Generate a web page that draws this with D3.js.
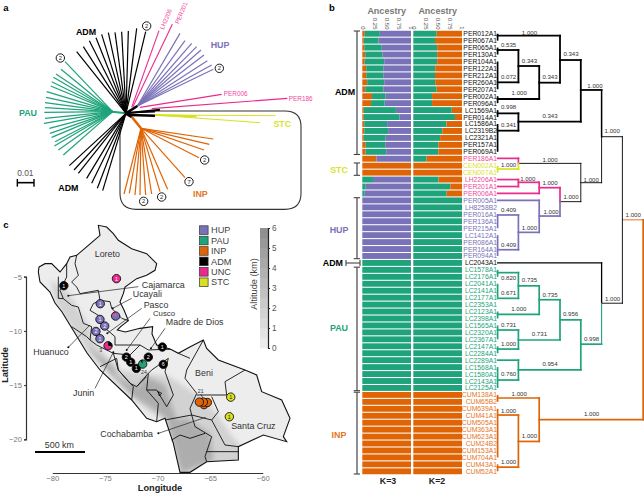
<!DOCTYPE html>
<html><head><meta charset="utf-8">
<script src="https://cdn.jsdelivr.net/npm/d3@7"></script>
<style>
html,body{margin:0;padding:0;background:#fff}
svg{display:block;font-family:"Liberation Sans",Arial,sans-serif}
</style></head><body><svg id="c" width="644" height="495"></svg>
<script>
// ---------- colours ----------
const COL={HUP:"#7a72b8",PAU:"#1ea37a",INP:"#df6405",ADM:"#000",UNC:"#ea2a8d",STC:"#d9e021"};
const TXT={HUP:"#7a72b8",PAU:"#1ea37a",INP:"#e5761f",ADM:"#000",UNC:"#f0489c",STC:"#dbe22a"};

// ---------- panel b: samples ----------
const names=["PER012A1","PER067A1","PER065A1","PER130A1","PER104A1","PER122A1","PER212A1","PER260A1","PER207A1","PER002A1","PER096A1","LC1569A1","PER014A1","LC1586A1","LC2319B2","LC2321A1","PER157A1","PER069A1","PER186A1","CEN002A1","CEN007A1","LH2206A1","PER201A1","PER006A1","PER005A1","LH8258B2","PER016A1","PER136A1","PER215A1","LC1412A1","PER086A1","PER164A1","PER094A1","LC2043A1","LC1578A1","LC2176A1","LC2041A1","LC2141A1","LC2177A1","LC2353A1","LC2123A1","LC2398A1","LC1565A1","LC2320A1","LC2367A1","LC2147A1","LC2284A1","LC2289A1","LC1568A1","LC1580A1","LC2143A1","LC2125A1","CUM138A1","CUM65B2","CUM639A1","CUM41A1","CUM505A1","CUM363A1","CUM623A1","CUM24B2","CUM153A1","CUM704A1","CUM43A1","CUM52A1"];
const nameGroups=[["ADM",18],["UNC",1],["STC",2],["UNC",3],["HUP",9],["ADM",1],["PAU",18],["INP",12]];
const k3Orange=[.05,.03,.04,.06,.05,.08,.08,.10,.06,.20,.18,.03,.03,.04,.04,.03,.07,.07,.29,1,1,0,0,0,0,0,0,0,0,0,0,0,0,0,0,0,0,0,0,0,0,0,0,0,0,0,0,0,0,0,0,0,1,1,1,1,1,1,1,1,1,1,1,1];
const k3Green=[.31,.30,.36,.35,.40,.35,.35,.35,.37,.28,.28,.66,.73,.47,.49,.45,.40,.42,0,0,0,.22,.07,.05,0,0,0,0,0,0,0,0,0,.98,1,1,1,1,1,1,1,1,1,1,1,1,1,1,1,1,1,1,0,0,0,0,0,0,0,0,0,0,0,0];
const k2Green=[.48,.445,.49,.49,.49,.45,.445,.45,.48,.385,.385,.79,.855,.68,.595,.55,.515,.515,.27,0,0,.52,.76,.685,1,1,1,1,1,1,1,1,1,1,1,1,1,1,1,1,1,1,1,1,1,1,1,1,1,1,1,1,0,0,0,0,0,0,0,0,0,0,0,0];
const ancestryTicks=[0,.25,.5,.75,1];
const ancestryLabels=["0","0.25","0.50","0.75","1"];
const brackets=[["ADM",0,17],["STC",19,20],["HUP",24,32],["PAU",34,51],["INP",52,63]];

// dendrogram: level = depth column, row = sample row
const dendroH=[ // from level, to level, row, colour, weight
[0,3,.29,"ADM",1.8],[3,4,3.79,"ADM",1.8],[2,3,7.05,"ADM",1.8],[1,2,4.65,"ADM",1.8],[0,2,9.4,"ADM",1.8],[0,1,2.35,"ADM",1.8],[0,1,7,"ADM",1.8],
[1,4,12.67,"ADM",1.8],[4,5,8.1,"ADM",1.8],[0,1,11.47,"ADM",1.8],[0,1,13.96,"ADM",1.8],[5,6,14.83,"ADM",.9],[4,5,21.45,"ADM",.9],[1,4,18.67,"ADM",.9],
[0,1,17.95,"UNC",1.7],[0,1,19.48,"STC",1.7],[3,4,24.18,"ADM",.9],[2,3,22.17,"UNC",1.7],[2,3,26.25,"HUP",1.7],[1,2,21.4,"UNC",1.7],[0,2,23,"UNC",1.7],[0,1,21,"UNC",1.7],[0,1,22,"UNC",1.7],
[0,2,24,"HUP",1.7],[1,2,28.6,"HUP",1.7],[0,1,26.1,"HUP",1.7],[0,1,31.1,"HUP",1.7],
[0,5,33,"ADM",1.3],[5,6,38.8,"ADM",.9],[6,7,26.8,"INP",.9],
[4,5,44.7,"PAU",1.7],[1,4,48.4,"PAU",1.7],[3,4,41.2,"PAU",1.7],[2,3,38.3,"PAU",1.7],[1,3,44.1,"PAU",1.7],[1,2,36.3,"PAU",1.7],[0,2,40.4,"PAU",1.7],
[0,1,34.4,"PAU",1.7],[0,1,38.1,"PAU",1.7],[0,1,42.66,"PAU",1.7],[0,1,45.4,"PAU",1.7],[0,1,47,"PAU",1.7],[0,1,49.86,"PAU",1.7],
[2,7,55.56,"INP",1.8],[0,2,52.45,"INP",1.7],[1,2,58.7,"INP",1.7],[0,1,54.9,"INP",1.7],[0,1,62.4,"INP",1.7]];
const dendroV=[ // level, row a, row b, colour, weight
[3,.29,7.05,"ADM",1.8],[2,4.65,9.4,"ADM",1.8],[1,2.35,7,"ADM",1.8],[4,3.79,12.67,"ADM",1.8],[1,11.47,13.96,"ADM",1.8],[5,8.1,14.83,"ADM",1.5],[5,14.83,21.45,"ADM",.9],
[4,18.67,24.18,"ADM",.9],[1,17.95,18.67,"UNC",1.7],[1,18.67,19.48,"STC",1.7],[3,22.17,24.18,"UNC",1.7],[3,24.18,26.25,"HUP",1.7],[2,21.4,23,"UNC",1.7],[1,21,22,"UNC",1.7],
[2,24,28.6,"HUP",1.7],[1,26.1,31.1,"HUP",1.7],[5,33,38.8,"ADM",1.3],[5,38.8,44.7,"PAU",1.1],[6,14.83,38.8,"ADM",.9],[7,26.8,55.56,"INP",1.8],
[4,41.2,48.4,"PAU",1.7],[3,38.3,44.1,"PAU",1.7],[2,36.3,40.4,"PAU",1.7],[1,34.4,38.1,"PAU",1.7],[1,42.66,45.4,"PAU",1.7],[1,47,49.86,"PAU",1.7],
[2,52.45,58.7,"INP",1.7],[1,54.9,62.4,"INP",1.7]];
const tipBars=[[0,1,"ADM"],[2,3,"ADM"],[4,8,"ADM"],[9,10,"ADM"],[11,12,"ADM"],[13,17,"ADM"],[19,20,"STC"],[26,28,"HUP"],[29,32,"HUP"],[34,35,"PAU"],[36,38,"PAU"],[40,41,"PAU"],[42,44,"PAU"],[45,46,"PAU"],[48,51,"PAU"],[52,53,"INP"],[54,61,"INP"],[62,63,"INP"]];
const supportLabels=[[1.53,-.19,"1.000"],[.53,1.54,"0.535"],[1.53,3.79,"0.343"],[2.52,6.14,"0.343"],[.53,6.09,"0.072"],[1.04,8.49,"1.000"],[3.53,2.78,"0.343"],[4.68,7.39,"1.000"],[2.52,11.76,"0.343"],[.53,10.5,"0.998"],[.53,13.05,"0.341"],[5.51,13.96,"1.000"],[2.52,18.04,"1.000"],[.53,18.8,"1.000"],[1.45,20.83,"1.000"],[2.52,21.45,"1.000"],[4.5,20.92,"1.000"],[3.53,23.5,"1.000"],[2.57,25.6,"1.000"],[1.53,27.9,"1.000"],[.53,25.3,"0.409"],[.53,30.3,"0.409"],[6.52,26,"1.000"],[1.53,35.36,"0.735"],[2.52,37.5,"0.735"],[.53,35.1,"0.820"],[.53,37.2,"0.671"],[1.02,39.5,"1.000"],[3.51,40.3,"0.956"],[.53,41.85,"0.731"],[2.01,43.2,"0.731"],[.53,44.6,"1.000"],[5.53,38.1,"1.000"],[4.52,43.95,"0.998"],[2.52,47.45,"0.954"],[.53,48.9,"0.760"],[1.04,51.8,"1.000"],[.53,54.2,"1.000"],[1.53,57.8,"1.000"],[.53,61.6,"1.000"],[4.52,54.65,"1.000"]];

// ---------- panel a: unrooted tree tips ----------
const treeCentre=[378,340];
const pauHub=[338,335];
const pauTips=[[195,185],[183,208],[168,222],[160,232],[155,245],[152,258],[140,275],[138,292],[135,308],[135,323],[133,337],[135,355],[132,370],[148,385],[150,400],[155,412],[165,425],[163,438],[175,450],[190,465]];
const admTopTips=[[230,155],[250,140],[268,122],[288,113],[305,103],[325,98],[345,97],[365,95],[385,93],[410,85],[437,95]];
const admBotTips=[[208,497],[222,510],[235,520],[260,535],[275,550],[292,565],[308,572]];
const hupHub=[412,318];
const hupTips=[[540,100],[555,122],[575,130],[590,140],[603,150],[612,165],[622,182],[635,195],[640,208]];
const uncLong=[[[395,322],[477,92]],[[398,322],[517,73]],[[420,322],[665,283]],[[455,326],[862,295]]];
const stcTips=[[827,347],[780,368]];
const inpHub=[423,385];
const inpTips=[[640,417],[628,433],[612,450],[597,473],[555,533],[372,582],[388,580],[405,585],[420,585],[437,585],[455,582],[480,575],[503,568]];
const circled=[[440,78,2],[181,174,2],[658,205,2],[614,480,2],[567,545,7],[431,604,2],[485,591,2]];
const treeLabels=[[258,96,"ADM","ADM"],[205,564,"ADM","ADM"],[84,339,"PAU","PAU"],[660,135,"HUP","HUP"],[847,371,"STC","STC"],[601,581,"INP","INP"]];

// ---------- panel c ----------
const lonTicks=[-80,-75,-70,-65,-60];
const latTicks=[-5,-10,-15,-20];
const altTicks=[0,1,2,3,4,5,6];
const altBands=d3.range(0,6,.5);
const outline=[[117,111],[135,101],[155,101],[180,126],[200,101],[210,81],[230,76],[265,46],[300,16],[295,-14],[320,-9],[340,11],[355,31],[395,56],[440,71],[470,101],[465,121],[440,136],[410,146],[375,171],[370,191],[360,216],[372,240],[385,272],[362,290],[352,300],[376,306],[420,295],[458,290],[456,312],[470,345],[512,358],[535,370],[568,352],[610,330],[620,355],[655,390],[735,420],[770,435],[785,485],[845,510],[870,565],[850,620],[860,635],[790,615],[715,650],[715,690],[620,695],[570,727],[540,727],[520,640],[495,565],[470,575],[440,565],[395,510],[300,420],[261,369],[219,300],[186,246],[165,219],[150,186],[120,156],[115,126]];
const altMid=[[150,150],[200,180],[262,280],[292,350],[360,420],[440,430],[510,440],[600,500],[650,550],[690,610],[724,650],[724,730],[540,740],[510,650],[500,570],[440,540],[350,450],[270,370],[220,300],[170,225]];
const altHigh=[[255,345],[290,370],[340,410],[352,440],[410,470],[440,440],[495,465],[530,570],[560,565],[630,610],[640,690],[545,728],[520,640],[500,565],[450,530],[400,500],[340,440]];
const borders=[
[[230,76],[225,101],[235,136],[215,156],[230,171],[240,191],[295,181],[300,211],[280,221],[270,241],[295,256],[310,290],[345,320],[345,345],[385,345],[420,345],[445,360],[490,358],[512,358]],
[[200,101],[200,141],[180,181],[190,206],[215,226],[235,231],[250,280],[275,290],[270,330],[290,345],[340,370],[355,420],[390,460],[410,470],[440,440]],
[[175,140],[175,205],[190,206]],[[215,290],[260,320],[270,330]],[[300,410],[350,385],[355,420]],[[355,420],[400,470],[395,510]],[[340,370],[390,375],[420,345]],[[300,211],[330,215],[335,235],[365,265],[385,272]],
[[505,385],[495,425],[520,495],[500,530],[470,480],[440,480],[445,430],[410,470]],
[[440,480],[475,520],[470,575]],[[445,430],[455,420],[505,385]],[[475,485],[485,490],[478,498],[475,485]],
[[610,330],[560,420],[555,445],[590,490],[570,535],[575,555],[495,570]],[[535,370],[570,385]],
[[590,495],[680,495],[675,455],[735,420]],[[635,500],[655,545],[635,570],[675,645],[715,650]],[[575,555],[635,570]],
[[575,555],[585,590],[635,620],[615,680],[620,695]],[[620,665],[715,665]],[[515,630],[540,615],[570,625],[615,610]]
];
const leaders=[[[205,197],[415,170]],[[338,235],[395,205]],[[322,310],[425,235]],[[380,360],[450,265]],[[453,355],[495,295]],[[205,352],[270,285]],[[340,367],[285,475]],[[475,610],[617,562]],[[602,492],[610,506]]];
const mapTexts=[[322,72,"Loreto",8.9],[490,165,"Cajamarca",8.9],[442,193,"Ucayali",8.9],[468,225,"Pasco",8.9],[492,250,"Cusco",7.8],[584,275,"Madre de Dios",8.9],[153,365,"Huanuco",8.9],[251,488,"Junin",8.9],[612,428,"Beni",8.9],[760,587,"Santa Cruz",8.9],[380,612,"Cochabamba",8.9],[178,645,"500 km",8.9],[302,360,"3",5.2],[432,427,"24",5.2],[602,483,"21",5.2]];
// markers: lon, lat, count text, shares
const markers=[
[-78.9,-5.83,"1",[["ADM",1]]],[-73.9,-5.18,"1",[["UNC",1]]],[-75.44,-7.49,"1",[["HUP",1]]],[-73.98,-8.63,"",[["HUP",.85],["UNC",.15]]],[-75.47,-8.94,"1",[["HUP",1]]],[-75.02,-9.55,"2",[["HUP",1]]],[-75.85,-10.05,"2",[["HUP",1]]],[-75.47,-10.72,"1",[["HUP",1]]],[-74.7,-11.37,"",[["ADM",.3],["UNC",.7]]],
[-69.54,-11.49,"1",[["ADM",1]]],[-72.96,-12.42,"2",[["ADM",1]]],[-72.55,-12.88,"1",[["ADM",1]]],[-72.01,-13.46,"1",[["ADM",1]]],[-70.87,-12.42,"2",[["ADM",1]]],[-69.45,-13.09,"6",[["ADM",1]]],[-71.41,-13.06,"",[["PAU",.9],["ADM",.1]]],
[-65.58,-16.8,"",[["INP",1]]],[-65.26,-16.6,"",[["INP",1]]],[-65.64,-16.57,"",[["INP",1]]],[-66.02,-16.57,"",[["INP",1]]],
[-63.04,-16.11,"1",[["STC",1]]],[-63.17,-17.92,"1",[["STC",1]]]];
const legendItems=["HUP","PAU","INP","ADM","UNC","STC"];

// ---------- draw ----------
const svg=d3.select("#c");
const txt=(g,x,y,s,o={})=>g.append("text").attr("x",x).attr("y",y).attr("text-anchor",o.a||"middle").attr("dominant-baseline","central").attr("font-size",o.s||8).attr("font-weight",o.w||"normal").attr("fill",o.f||"#333").text(s);
[[6,7,"a"],[332,7,"b"],[6,224,"c"]].forEach(d=>txt(svg,d[0],d[1],d[2],{s:9.5,w:"bold",f:"#000"}));

// panel a
const tx=d3.scaleLinear().domain([0,990]).range([0,330]);
const ty=d3.scaleLinear().domain([0,720]).range([0,240]);
const pa=svg.append("g");
const tline=d3.line().x(d=>tx(d[0])).y(d=>ty(d[1]));
const seg=(pts,col,w)=>pa.append("path").attr("d",tline(pts)).attr("fill","none").attr("stroke",col).attr("stroke-width",w);
const boxPath=d3.path();
const bx=tx, by=ty;
boxPath.moveTo(bx(465),by(333));boxPath.lineTo(bx(855),by(333));boxPath.quadraticCurveTo(bx(903),by(333),bx(903),by(380));
boxPath.lineTo(bx(903),by(580));boxPath.quadraticCurveTo(bx(903),by(628),bx(855),by(628));boxPath.lineTo(bx(408),by(628));
boxPath.quadraticCurveTo(bx(360),by(628),bx(360),by(580));boxPath.lineTo(bx(360),by(385));
pa.append("path").attr("d",boxPath.toString()).attr("fill","none").attr("stroke","#333").attr("stroke-width",1.1);
pauTips.forEach(t=>seg([pauHub,t],COL.PAU,1.2));
seg([treeCentre,pauHub],COL.PAU,2);
admTopTips.forEach(t=>seg([treeCentre,t],"#000",1.2));
admBotTips.forEach(t=>seg([treeCentre,t],"#000",1.2));
hupTips.forEach(t=>seg([hupHub,t],COL.HUP,1.2));
uncLong.forEach(t=>seg(t,COL.UNC,1.1));
seg([[465,345],[590,349]],COL.STC,2.2);
stcTips.forEach(t=>seg([[465,345],t],COL.STC,1));
inpTips.forEach(t=>seg([inpHub,t],COL.INP,1.2));
seg([[395,350],inpHub],COL.INP,2.5);
seg([[378,340],[412,318]],"#000",2.5);
seg([[378,340],[480,329]],"#000",2);
seg([[378,338],[465,335]],"#000",1.5);
seg([[390,345],[465,347]],"#000",2.5);
seg([[378,340],[395,350]],"#000",3);
seg([[52,548],[102,548]],"#000",1.6);seg([[52,537],[52,560]],"#000",1.4);seg([[102,537],[102,560]],"#000",1.4);
txt(pa,tx(76),ty(520),"0.01",{s:8.4,f:"#555"});
txt(pa,tx(707),ty(281),"PER006",{s:6.4,f:TXT.UNC});
txt(pa,tx(902),ty(295),"PER186",{s:6.4,f:TXT.UNC});
[[497,57,"LH2206"],[543,38,"PER201"]].forEach(d=>txt(pa,tx(d[0]),ty(d[1]),d[2],{s:6.2,f:TXT.UNC}).attr("transform",`rotate(-67 ${tx(d[0])} ${ty(d[1])})`));
treeLabels.forEach(d=>txt(pa,tx(d[0]),ty(d[1]),d[2],{s:8.9,w:"bold",f:TXT[d[3]]}));
circled.forEach(d=>{pa.append("circle").attr("cx",tx(d[0])).attr("cy",ty(d[1])).attr("r",4.2).attr("fill","#fff").attr("stroke","#000").attr("stroke-width",.9);
 txt(pa,tx(d[0]),ty(d[1]),d[2],{s:5.8,f:"#222"});});

// panel b
const rowY=d3.scaleLinear().domain([0,63]).range([33.7,471.3]);
const k3x=d3.scaleLinear().domain([0,1]).range([362.3,411]);
const k2x=d3.scaleLinear().domain([0,1]).range([413.3,462]);
const pb=svg.append("g");
const barH=5.9;
names.forEach((n,i)=>{
 const o=k3Orange[i],g=k3Green[i];
 [[0,o,"INP"],[o,o+g,"PAU"],[o+g,1,"HUP"]].forEach(s=>{ if(s[1]>s[0]) pb.append("rect").attr("x",k3x(s[0])).attr("width",k3x(s[1])-k3x(s[0])).attr("y",rowY(i)-barH/2).attr("height",barH).attr("fill",COL[s[2]]);});
 const h=k2Green[i];
 [[0,h,"PAU"],[h,1,"INP"]].forEach(s=>{ if(s[1]>s[0]) pb.append("rect").attr("x",k2x(s[0])).attr("width",k2x(s[1])-k2x(s[0])).attr("y",rowY(i)-barH/2).attr("height",barH).attr("fill",COL[s[2]]);});
});
[k3x,k2x].forEach(sc=>{
 const g=pb.append("g").attr("transform","translate(0,29.5)").call(d3.axisTop(sc).tickValues(ancestryTicks).tickSize(0).tickPadding(0).tickFormat((d,i)=>ancestryLabels[i]));
 g.select(".domain").remove();
 g.selectAll("text").attr("font-size",6).attr("font-family","inherit").attr("fill","#555").attr("transform","rotate(90)").attr("x",0).attr("y",0).attr("dy",".35em").attr("text-anchor","end");
 txt(pb,(sc.range()[0]+sc.range()[1])/2,11,"Ancestry",{s:9,w:"bold",f:"#777"});
});
txt(pb,388,481,"K=3",{s:8.8,w:"bold",f:"#222"});
txt(pb,437,481,"K=2",{s:8.8,w:"bold",f:"#222"});
// names
let gi=0,left=nameGroups[0][1];
names.forEach((n,i)=>{ if(left===0){gi++;left=nameGroups[gi][1];} left--;
 const g=nameGroups[gi][0];
 txt(pb,497,rowY(i),n,{s:6.8,a:"end",f:g==="ADM"?"#111":TXT[g]}); });
// brackets
const bl=d3.line();
const br=(pts,w,c)=>pb.append("path").attr("d",bl(pts)).attr("fill","none").attr("stroke",c||"#444").attr("stroke-width",w);
brackets.forEach(b=>{const y0=rowY(b[1])-2.7,y1=rowY(b[2])+2.7;
 br([[357,y0],[357,y1]],1.2);br([[353.7,y0],[360,y0]],1.1);br([[353.7,y1],[360,y1]],1.1);
});
br([[346,263],[360,263]],1.1);br([[346,260],[346,266]],1.1);br([[360,260],[360,266]],1.1);
[["ADM",92,345],["STC",170,339],["HUP",230,339],["PAU",328,339],["INP",435,339]].forEach(d=>txt(pb,d[2],d[1],d[0],{s:8.9,w:"bold",f:TXT[d[0]]}));
txt(pb,343,263,"ADM",{s:8.9,w:"bold",f:"#000",a:"end"});
// dendrogram
const lev=d3.scaleLinear().domain([0,7]).range([497.6,643.2]);
const pd=svg.append("g");
const dl=d3.line().x(d=>lev(d[0])).y(d=>rowY(d[1]));
dendroH.forEach(d=>pd.append("path").attr("d",dl([[d[0],d[2]],[d[1],d[2]]])).attr("fill","none").attr("stroke",COL[d[3]]).attr("stroke-width",d[4]).attr("stroke-linecap","square"));
dendroV.forEach(d=>pd.append("path").attr("d",dl([[d[0],d[1]],[d[0],d[2]]])).attr("fill","none").attr("stroke",COL[d[3]]).attr("stroke-width",d[4]).attr("stroke-linecap","square"));
tipBars.forEach(d=>pd.append("path").attr("d",dl([[0,d[0]],[0,d[1]]])).attr("stroke",COL[d[2]]).attr("stroke-width",1.7));
supportLabels.forEach(d=>txt(pd,lev(d[0]),rowY(d[1]),d[2],{s:6.1,f:"#333"}));

// panel c
const lonX=d3.scaleLinear().domain([-80,-60]).range([52.3,262.7]);
const latY=d3.scaleLinear().domain([-5,-20]).range([276.7,439.3]);
const sx=d3.scaleLinear().domain([0,990]).range([0,330]);
const sy=d3.scaleLinear().domain([0,795]).range([230,495]);
const mline=d3.line().x(d=>sx(d[0])).y(d=>sy(d[1]));
const pc=svg.append("g");
const defs=svg.append("defs");
defs.append("clipPath").attr("id","mapclip").append("path").attr("d",mline(outline)+"Z");
const fb=defs.append("filter").attr("id","blur").attr("x","-20%").attr("y","-20%").attr("width","140%").attr("height","140%");
fb.append("feGaussianBlur").attr("stdDeviation",2.4);
pc.append("path").attr("d",mline(outline)+"Z").attr("fill","#ededed");
const cg=pc.append("g").attr("clip-path","url(#mapclip)");
cg.append("path").attr("d",mline(altMid)+"Z").attr("fill","#d2d2d2").attr("filter","url(#blur)");
cg.append("path").attr("d",mline(altHigh)+"Z").attr("fill","#adadad").attr("filter","url(#blur)");
borders.forEach(b=>pc.append("path").attr("d",mline(b)).attr("fill","none").attr("stroke","#111").attr("stroke-width",.9));
pc.append("path").attr("d",mline(outline)+"Z").attr("fill","none").attr("stroke","#111").attr("stroke-width",1.1);
leaders.forEach(b=>pc.append("path").attr("d",mline(b)).attr("fill","none").attr("stroke","#222").attr("stroke-width",.7));
leaders.slice(0,8).forEach(b=>pc.append("circle").attr("cx",sx(b[0][0])).attr("cy",sy(b[0][1])).attr("r",1).attr("fill","#111"));
mapTexts.forEach(d=>txt(pc,sx(d[0]),sy(d[1]),d[2],{s:d[3],f:"#333"}));
pc.append("path").attr("d",mline([[105,666],[255,666]])).attr("stroke","#000").attr("stroke-width",2);
const pie=d3.pie().sort(null).value(d=>d[1]);
const arc=d3.arc().innerRadius(0).outerRadius(4.2);
markers.forEach(m=>{const g=pc.append("g").attr("transform",`translate(${lonX(m[0])},${latY(m[1])})`);
 g.selectAll("path").data(pie(m[3])).join("path").attr("d",arc).attr("fill",d=>COL[d.data[0]]);
 g.append("circle").attr("r",4.2).attr("fill","none").attr("stroke","#111").attr("stroke-width",.9);
 if(m[2]) txt(g,0,0,m[2],{s:5.4,f:m[3][0][0]==="STC"?"#222":"#fff"});});
// axes
const xa=pc.append("g").attr("transform","translate(0,473)").call(d3.axisBottom(lonX).tickValues(lonTicks).tickSize(0).tickPadding(3).tickFormat(d3.format("d")));
const ya=pc.append("g").attr("transform","translate(26,0)").call(d3.axisLeft(latY).tickValues(latTicks).tickSize(2).tickPadding(2).tickFormat(d3.format("d")));
[xa,ya].forEach(a=>{a.select(".domain").attr("stroke","#333").attr("stroke-width",1.2);a.selectAll("line").attr("stroke","#333");a.selectAll("text").attr("font-size",7.6).attr("font-family","inherit").attr("fill","#777");});
txt(pc,160,488,"Longitude",{s:9.2,w:"bold",f:"#222"});
txt(pc,5,365,"Latitude",{s:9.2,w:"bold",f:"#222"}).attr("transform","rotate(-90 5 365)");
// legend
const legY=d3.scaleBand().domain(legendItems).range([225,287.6]);
legendItems.forEach(k=>{pc.append("rect").attr("x",199.5).attr("y",legY(k)+.8).attr("width",8.6).attr("height",8.6).attr("fill",COL[k]).attr("stroke","#333").attr("stroke-width",.7);
 txt(pc,211,legY(k)+5.2,k,{s:9.2,a:"start",f:"#444"});});
// colour bar
const altY=d3.scaleLinear().domain([0,6]).range([348,228]);
const altC=d3.scaleLinear().domain([0,6]).range(["#f0f0f0","#8c8c8c"]);
pc.selectAll("rect.alt").data(altBands).join("rect").attr("class","alt").attr("x",260).attr("width",8).attr("y",d=>altY(d+.5)).attr("height",altY(0)-altY(.5)+.3).attr("fill",d=>altC(d+.25));
const aa=pc.append("g").attr("transform","translate(268,0)").call(d3.axisRight(altY).tickValues(altTicks).tickSize(2).tickPadding(2).tickFormat(d3.format("d")));
aa.select(".domain").attr("stroke","#222").attr("stroke-width",1.2);aa.selectAll("line").attr("stroke","#222");
aa.selectAll("text").attr("font-size",8.2).attr("font-family","inherit").attr("fill","#555");
txt(pc,254,284,"Altitude (km)",{s:9.2,f:"#444"}).attr("transform","rotate(-90 254 284)");
</script></body></html>
